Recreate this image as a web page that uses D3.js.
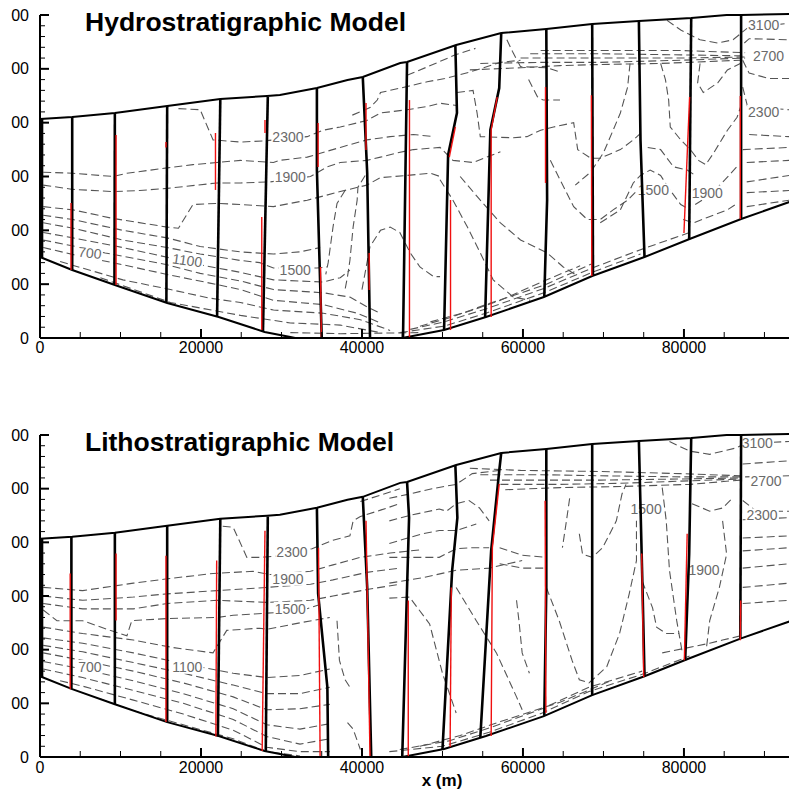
<!DOCTYPE html>
<html>
<head>
<meta charset="utf-8">
<script src="https://cdn.jsdelivr.net/npm/d3@7"></script>
<style>
  html, body { margin: 0; padding: 0; background: #fff; }
  svg { display: block; font-family: "Liberation Sans", Arial, sans-serif; }
</style>
</head>
<body>
<div id="chart"></div>
<script>
const xTicks = [0, 20000, 40000, 60000, 80000];
const yTicks = [0, 500, 1000, 1500, 2000, 2500, 3000];
const panelTitles = ["Hydrostratigraphic Model", "Lithostratigraphic Model"];

// model domain outline, [x (m), elevation]
const topBoundary = [[0,2034],[4000,2053],[9300,2090],[15800,2155],[22400,2220],[28200,2248],[29800,2257],[34400,2322],[38200,2396],[40100,2424],[44750,2554],[45600,2563],[51700,2721],[57300,2833],[62900,2870],[68600,2916],[74400,2944],[80900,2972],[85300,3000],[87100,3000],[93100,3009]];
const bottomBoundary = [[0,752],[4000,632],[9300,492],[15800,325],[22200,195],[27900,56],[31100,9],[31700,0],[45000,0],[50200,74],[55400,195],[62600,381],[68600,576],[75100,752],[80700,920],[87100,1105],[93100,1263]];

// black flow lines, top panel
const hydroWells = [
  [[250,2034],[250,745]],
  [[4000,2053],[4000,632]],
  [[9300,2090],[9250,492]],
  [[15800,2155],[15700,327]],
  [[22400,2220],[22000,199]],
  [[28300,2238],[27700,61]],
  [[34400,2322],[34400,1560],[35000,0]],
  [[40100,2424],[40650,1532],[41000,0]],
  [[45600,2563],[45350,1282],[45100,0]],
  [[51600,2721],[51800,2090],[50700,1700],[50200,74]],
  [[57300,2833],[57050,2322],[55950,1932],[55300,193]],
  [[62900,2870],[63000,1282],[62650,383]],
  [[68600,2916],[68700,579]],
  [[74400,2944],[74600,1839],[75100,752]],
  [[80900,2972],[80650,918]],
  [[87100,3000],[87100,1105]]
];
// red lines, top panel
const hydroRed = [
  [[3850,1254],[3850,632]],
  [[9450,1885],[9450,492]],
  [[15650,1820],[15650,1770]],
  [[21800,1904],[21800,1375]],
  [[27950,2025],[27950,1904]],
  [[27550,1124],[27550,74]],
  [[34550,1997],[34550,1588]],
  [[34850,660],[34950,0]],
  [[40500,2183],[40500,1746]],
  [[40900,789],[40900,446]],
  [[45900,2210],[45900,0]],
  [[51600,1960],[50850,1680]],
  [[51000,1282],[51000,74]],
  [[56800,2238],[56050,1932],[56050,195]],
  [[62800,2331],[62800,1440]],
  [[68500,2254],[68550,576]],
  [[80700,2238],[80000,975]],
  [[87000,2248],[87000,1105]]
];
// dashed contours, top panel
const hydroContours = [
  [[17200,2130],[19900,2120],[21500,1840],[24900,1820],[27700,1830],[33200,1870],[35200,1930],[37300,1960],[40600,2020],[42300,2090],[45600,2120],[48100,2150],[49700,2180],[51800,2160]],
  [[38800,2070],[41000,2140],[41900,2210],[42300,2280],[44700,2320],[48100,2380],[50300,2410],[53400,2470],[57200,2560],[59700,2580]],
  [[45600,2440],[48500,2530],[51600,2630],[54100,2690]],
  [[400,1540],[4100,1530],[9100,1500],[10800,1530],[15800,1580],[19000,1610],[22000,1630],[24900,1650],[29000,1630],[29800,1650],[33200,1680],[37300,1770],[40600,1840],[43500,1870],[46400,1890],[48900,1870]],
  [[400,1420],[4100,1380],[9100,1360],[12400,1370],[15800,1390],[22000,1440],[24900,1440],[28600,1450],[33600,1500],[35700,1590],[37300,1630],[40600,1650],[42300,1680],[44400,1720],[46400,1750],[49700,1770],[51300,1650],[53800,1630],[57200,1730]],
  [[400,1220],[4100,1190],[9100,1110],[15800,1030],[17200,1020],[19000,1240],[22000,1250],[24900,1240],[29000,1220],[33200,1280],[37300,1360],[40600,1420],[42300,1490],[45600,1510],[48500,1530],[49700,1500]],
  [[37900,1370],[36900,1250],[36400,1030],[35800,700],[35500,590]],
  [[40400,1510],[39500,1400],[39400,1280],[38900,1030],[38500,720],[38200,570],[37900,450]],
  [[40000,450],[41000,850],[42300,1000],[43500,1030],[44700,980],[46000,790],[47200,660],[48900,570],[49700,570]],
  [[400,1140],[4100,1100],[10300,1000],[15800,930],[19900,850],[24900,800],[29000,780],[32300,800],[34800,840]],
  [[400,1070],[4100,1020],[10300,910],[15800,840],[19900,780],[24900,720],[27300,700],[29000,650],[34400,650],[35700,660]],
  [[400,980],[4100,930],[10300,840],[15800,750],[19900,680],[24900,610],[29000,540],[35200,520],[37300,560],[38500,630]],
  [[400,910],[4400,850],[8100,790],[15800,680],[19900,600],[24900,530],[29000,450],[35200,420],[38500,380],[40600,290],[42300,230]],
  [[400,840],[4400,770],[10300,680],[15800,590],[21100,510],[24900,450],[29000,350],[35200,310],[39400,230],[42300,140]],
  [[2500,710],[10300,540],[16200,450],[21100,370],[24900,330],[29000,260],[35200,230],[39800,170],[43500,70]],
  [[7500,560],[16200,330],[24900,210],[31100,140],[37300,120],[42300,50]],
  [[31100,50],[37300,40],[47200,50]],
  [[44700,50],[50200,110],[55400,230],[62600,420],[68600,610],[74600,780]],
  [[46000,80],[50200,150],[55400,270],[62600,460],[68600,650],[74600,820],[80700,980]],
  [[47200,110],[51000,190],[55400,310],[62600,490],[68600,690]],
  [[48500,150],[53400,250],[57200,350],[62600,530],[67100,670]],
  [[49700,1470],[51300,1280],[53100,1030],[54700,790],[56300,540],[58800,380],[60900,350]],
  [[52200,1500],[54700,1280],[57200,1070],[59700,910],[63000,790],[65000,660],[66500,590]],
  [[63400,1650],[64600,1470],[66300,1220],[68000,1100],[69600,1100],[71200,1190],[73000,1280],[74600,1400]],
  [[51800,2280],[53800,2300],[54300,2090],[54700,1870],[58800,1860],[60500,1870],[62200,1930],[63800,1960],[66300,2000],[66800,1750],[68400,1670],[69600,1670],[72100,1750],[73700,1840],[74600,1900]],
  [[73300,2550],[73000,2330],[72100,2090],[71200,1930],[70000,1720],[68400,1540],[66500,1420]],
  [[58000,2770],[58700,2660],[59700,2520],[63000,2510],[64600,2470]],
  [[60700,2400],[61800,2240],[62500,2210],[64600,2210]],
  [[62200,2670],[69600,2670],[79600,2670],[87600,2650]],
  [[60900,2640],[69600,2640],[79600,2630],[87600,2620]],
  [[59700,2600],[69600,2600],[79600,2600],[87600,2610]],
  [[54700,2550],[62200,2560],[69600,2560],[79600,2580],[87600,2600]],
  [[53400,2490],[59700,2510],[64600,2530],[69600,2540],[77100,2550],[87000,2580]],
  [[77900,2950],[79600,2860],[82000,2770],[84200,2740],[86100,2770],[87900,2880],[92600,2920]],
  [[87500,2740],[88100,2780],[93100,2770]],
  [[87300,2580],[88100,2460],[90600,2410],[93100,2410]],
  [[87300,2330],[87900,2150],[93100,2120]],
  [[88100,1890],[93100,1870]],
  [[87300,1750],[93100,1770]],
  [[87800,1630],[93100,1650]],
  [[87800,1450],[93100,1510]],
  [[87800,1350],[93100,1370]],
  [[87800,1220],[93100,1280]],
  [[77100,2550],[77700,2400],[78100,2210],[78300,1960],[79600,1840],[80800,1750],[81800,1650],[82700,1610],[83700,1720],[85400,1930],[86600,2050],[87100,2160]],
  [[75500,1770],[77100,1750],[78700,1590],[80400,1560],[81400,1510]],
  [[69600,1070],[72100,1190],[73700,1440],[74600,1510],[75800,1560],[77100,1510],[78300,1370],[79600,1240],[80800,1190]],
  [[82000,2550],[81700,2370],[82400,2280],[84200,2370],[85400,2490],[87000,2550]],
  [[81400,1240],[83300,1330],[85100,1470],[86800,1610]],
  [[79900,1100],[81200,1070],[82900,1120],[85400,1190],[86600,1250]]
];
// contour labels, top panel: [x, elevation, text, angle]
const hydroLabels = [
  [6200, 790, "700", 6],
  [18300, 720, "1100", 8],
  [31700, 630, "1500", 0],
  [30800, 1870, "2300", 0],
  [31100, 1490, "1900", 0],
  [76200, 1370, "1500", 0],
  [82900, 1350, "1900", 0],
  [89900, 2910, "3100", 0],
  [90500, 2620, "2700", 0],
  [89900, 2100, "2300", 0]
];

// bottom panel
const lithoWells = [
  [[250,2034],[250,745]],
  [[3900,2053],[3900,635]],
  [[9300,2090],[9300,492]],
  [[15800,2155],[15800,325]],
  [[22400,2220],[22100,192]],
  [[28300,2240],[28050,52]],
  [[34400,2322],[34550,1523],[35700,650],[35800,0]],
  [[40100,2424],[40650,1579],[41150,0]],
  [[45600,2563],[45850,2229],[45000,0]],
  [[51600,2721],[51850,2229],[51200,1737],[50000,70]],
  [[57300,2833],[57050,2666],[56050,1923],[54700,179]],
  [[62900,2870],[62900,1579],[62650,383]],
  [[68600,2916],[68600,576]],
  [[74400,2944],[74850,1579],[75100,752]],
  [[80900,2972],[80650,1895],[80150,903]],
  [[87100,3000],[87000,1102]]
];
const lithoRed = [
  [[3750,1709],[3750,632]],
  [[9450,1895],[9450,1272]],
  [[15650,1876],[15650,325]],
  [[21950,1830],[21850,190]],
  [[27950,2108],[27600,56]],
  [[34600,1950],[34800,0]],
  [[40500,2201],[41000,0]],
  [[45750,1458],[45750,0]],
  [[51100,1579],[50950,93]],
  [[57050,2545],[56200,1950],[56050,195]],
  [[62750,2387],[62850,409]],
  [[74750,1895],[75000,743]],
  [[80400,2080],[80050,901]],
  [[87050,1458],[87000,1087]]
];
const lithoContours = [
  [[22700,2150],[24000,2140],[25700,1860],[27300,1860],[29200,1870],[33800,1940],[36400,2020],[38500,2060],[38900,2200],[39800,2240],[42300,2300],[44700,2360]],
  [[39800,2380],[42300,2440],[44700,2500]],
  [[400,1580],[5300,1550],[11600,1620],[15800,1660],[21500,1710],[26500,1730],[28600,1700],[33600,1730],[36400,1790],[39800,1860],[43500,1900],[47200,1930]],
  [[400,1500],[5300,1460],[11600,1490],[15800,1520],[22000,1550],[28200,1580],[33600,1610],[36400,1650],[40600,1720],[44700,1760]],
  [[400,1430],[5300,1380],[11600,1380],[15800,1430],[22000,1460],[28200,1440],[33600,1460],[36400,1500],[40600,1560],[44700,1610]],
  [[400,1370],[2100,1270],[5300,1270],[8700,1180],[10800,1130],[11400,1270],[15800,1290],[22000,1300],[24000,1320],[28200,1340],[32300,1360],[34800,1420]],
  [[400,1210],[5300,1150],[11600,1090],[16500,1020],[21500,970],[23200,1180],[27300,1200],[28200,1190],[32300,1250],[36000,1300]],
  [[36900,1270],[37200,900],[37900,720],[38500,650]],
  [[38200,320],[38900,260],[39800,70]],
  [[400,1110],[5300,1060],[11600,970],[17800,870],[24000,780],[28200,740],[32300,760],[36000,820]],
  [[400,1040],[5300,980],[11600,880],[17800,780],[24000,670],[28200,590],[32300,590],[36000,650]],
  [[400,970],[5300,900],[11600,800],[17800,690],[24000,560],[28200,440],[32300,450],[36000,490]],
  [[400,890],[5300,820],[11600,710],[17800,590],[24000,450],[28200,300],[32300,260],[36000,310]],
  [[400,820],[5300,740],[11600,620],[17800,500],[24000,350],[28200,190],[32300,120],[36000,170]],
  [[2500,710],[5300,660],[11600,530],[17800,400],[24000,250],[28200,90],[32300,50],[36000,50]],
  [[7500,540],[11600,430],[17800,300],[24000,170],[28200,50],[32300,10]],
  [[43400,2410],[45900,2450],[48700,2500],[51700,2540],[53700,2640],[57100,2670]],
  [[43400,2200],[45900,2250],[49600,2310],[50500,2290],[51700,2360],[53300,2390],[54600,2320],[55800,2200]],
  [[43400,1990],[47500,2080],[49600,2110],[51700,2110],[54200,2170]],
  [[43400,1860],[47500,1860],[49600,1860],[51700,1940],[53700,1950],[55800,1950]],
  [[43400,1620],[47500,1670],[51700,1740],[55800,1760],[59900,1830]],
  [[43400,1480],[45900,1490],[48400,1240],[50000,780],[51700,410]],
  [[57100,1950],[59900,1880],[62900,1860]],
  [[57100,1800],[59900,1760],[62900,1760]],
  [[51700,1580],[54200,1270],[56700,970],[59200,560],[59900,440]],
  [[62900,1580],[64500,1270],[66100,900],[67000,720],[68200,690],[70400,840],[72000,1150],[73200,1520],[74100,1830],[74100,2200]],
  [[65800,2410],[65400,2200],[64900,1950]],
  [[67000,2080],[67400,1890],[68600,1860],[69900,1950],[71600,2200],[72300,2450],[72800,2540]],
  [[59200,1460],[59500,1270],[59900,970],[60800,780]],
  [[77300,2510],[77800,2200],[78200,1740],[79100,1270],[79800,970]],
  [[74800,1640],[76100,1390],[76600,1210],[77800,1150],[79400,1150]],
  [[81000,2360],[83200,2290],[84800,2320],[86000,2410]],
  [[84800,2200],[85300,1890],[84400,1580],[83200,1270],[82800,1020]],
  [[78200,2940],[80700,2850],[83200,2820],[86500,2880],[87600,2920],[93100,2940]],
  [[87300,2730],[93100,2760]],
  [[87300,2390],[89000,2290],[93100,2290]],
  [[87300,2210],[93100,2230]],
  [[87300,2040],[93100,2060]],
  [[87300,1920],[93100,1950]],
  [[87300,1760],[93100,1800]],
  [[87300,1580],[93100,1620]],
  [[87300,1430],[93100,1460]],
  [[53400,2690],[59700,2670],[69600,2660],[79600,2640],[87000,2620]],
  [[54700,2630],[62200,2630],[69600,2620],[79600,2610],[87000,2610]],
  [[55900,2580],[62200,2580],[69600,2580],[79600,2590],[87000,2600]],
  [[57200,2540],[64600,2540],[72100,2550],[79600,2570],[87000,2590]],
  [[57800,2490],[64600,2510],[72100,2520],[80800,2540],[87000,2580]],
  [[87600,2610],[93100,2620]],
  [[43400,50],[50000,100],[55800,230],[62400,410],[68200,610],[74800,770],[80700,940]],
  [[44700,70],[50800,150],[55800,270],[62400,450],[68200,650],[74800,800]],
  [[47200,100],[52200,200],[57200,330],[64600,510],[70900,710]],
  [[77300,970],[83200,1060],[84800,1090],[87100,1130]]
];
const lithoLabels = [
  [6200, 840, "700", 0],
  [18300, 840, "1100", 0],
  [31300, 1910, "2300", 0],
  [30800, 1660, "1900", 0],
  [31100, 1380, "1500", 0],
  [75300, 2310, "1500", 0],
  [82500, 1740, "1900", 0],
  [89100, 2920, "3100", 0],
  [90200, 2570, "2700", 0],
  [89700, 2250, "2300", 0]
];

const W = 789, H = 792;
const svg = d3.select("#chart").append("svg").attr("width", W).attr("height", H);
const x = d3.scaleLinear().domain([0, 93050]).range([40, 789]);

const panels = [
  { top: 15, bottom: 338, titleY: 31, tickY: 353, title: panelTitles[0],
    wells: hydroWells, red: hydroRed, contours: hydroContours, labels: hydroLabels },
  { top: 435, bottom: 757, titleY: 451, tickY: 773, title: panelTitles[1],
    wells: lithoWells, red: lithoRed, contours: lithoContours, labels: lithoLabels }
];

// the source image is cropped at the left, only the last digits of the y labels show
const yLabel = d => d === 0 ? "0" : String(d).slice(-2);

panels.forEach((p, i) => {
  const y = d3.scaleLinear().domain([0, 3000]).range([p.bottom, p.top]);
  const line = d3.line().x(d => x(d[0])).y(d => y(d[1]));
  const g = svg.append("g");

  const poly = topBoundary.concat(bottomBoundary.slice().reverse());
  g.append("clipPath").attr("id", "dom" + i)
    .append("path").attr("d", line(poly) + "Z");

  // contours
  const cg = g.append("g").attr("clip-path", `url(#dom${i})`);
  cg.selectAll("path").data(p.contours).join("path")
    .attr("d", line)
    .attr("fill", "none")
    .attr("stroke", "#555")
    .attr("stroke-width", 1.1)
    .attr("stroke-dasharray", "8,4");

  // contour labels
  const lab = g.append("g").selectAll("g").data(p.labels).join("g")
    .attr("transform", d => `translate(${x(d[0])},${y(d[1])}) rotate(${d[3]})`);
  lab.append("text")
    .attr("text-anchor", "middle")
    .attr("dy", "0.35em")
    .attr("font-size", 14)
    .attr("fill", "#6a6a6a")
    .text(d => d[2]);
  lab.each(function () {
    const gg = d3.select(this);
    const bb = gg.select("text").node().getBBox();
    gg.insert("rect", "text")
      .attr("x", bb.x - 1).attr("y", bb.y + 1)
      .attr("width", bb.width + 2).attr("height", bb.height - 2)
      .attr("fill", "#fff");
  });

  // domain outline
  g.append("path").attr("d", line(topBoundary))
    .attr("fill", "none").attr("stroke", "#000").attr("stroke-width", 2);
  g.append("path").attr("d", line(bottomBoundary))
    .attr("fill", "none").attr("stroke", "#000").attr("stroke-width", 2);

  // flow lines
  g.append("g").selectAll("path").data(p.wells).join("path")
    .attr("d", line)
    .attr("fill", "none").attr("stroke", "#000").attr("stroke-width", 2.6);
  g.append("g").selectAll("path").data(p.red).join("path")
    .attr("d", line)
    .attr("fill", "none").attr("stroke", "#f01010").attr("stroke-width", 1.4);

  // axes
  const ax = g.append("g").attr("stroke", "#000");
  ax.append("line").attr("x1", 40).attr("x2", 40).attr("y1", p.top).attr("y2", p.bottom).attr("stroke-width", 2);
  ax.append("line").attr("x1", 40).attr("x2", W).attr("y1", p.bottom).attr("y2", p.bottom).attr("stroke-width", 2);

  ax.selectAll(".ymin").data(d3.range(0, 3001, 100)).join("line")
    .attr("x1", 40).attr("x2", d => yTicks.includes(d) ? 49 : 45)
    .attr("y1", d => y(d)).attr("y2", d => y(d))
    .attr("stroke-width", d => yTicks.includes(d) ? 2 : 1);
  ax.selectAll(".xmin").data(d3.range(0, 93001, 5000)).join("line")
    .attr("x1", d => x(d)).attr("x2", d => x(d))
    .attr("y1", p.bottom).attr("y2", d => xTicks.includes(d) ? p.bottom - 9 : p.bottom - 6)
    .attr("stroke-width", d => xTicks.includes(d) ? 2 : 1);

  g.append("g")
    .selectAll("text").data(yTicks).join("text")
    .attr("x", 29).attr("y", d => y(d))
    .attr("dy", "0.35em")
    .attr("text-anchor", "end")
    .attr("font-size", 16)
    .text(yLabel);

  g.append("g").selectAll("text").data(xTicks).join("text")
    .attr("x", d => x(d)).attr("y", p.tickY)
    .attr("text-anchor", "middle")
    .attr("font-size", 16)
    .text(d => d);

  g.append("text")
    .attr("x", 85).attr("y", p.titleY)
    .attr("font-size", 26.5)
    .attr("font-weight", "bold")
    .text(p.title);
});

svg.append("text")
  .attr("x", 442).attr("y", 786)
  .attr("text-anchor", "middle")
  .attr("font-size", 17)
  .attr("font-weight", "bold")
  .text("x (m)");
</script>
</body>
</html>
